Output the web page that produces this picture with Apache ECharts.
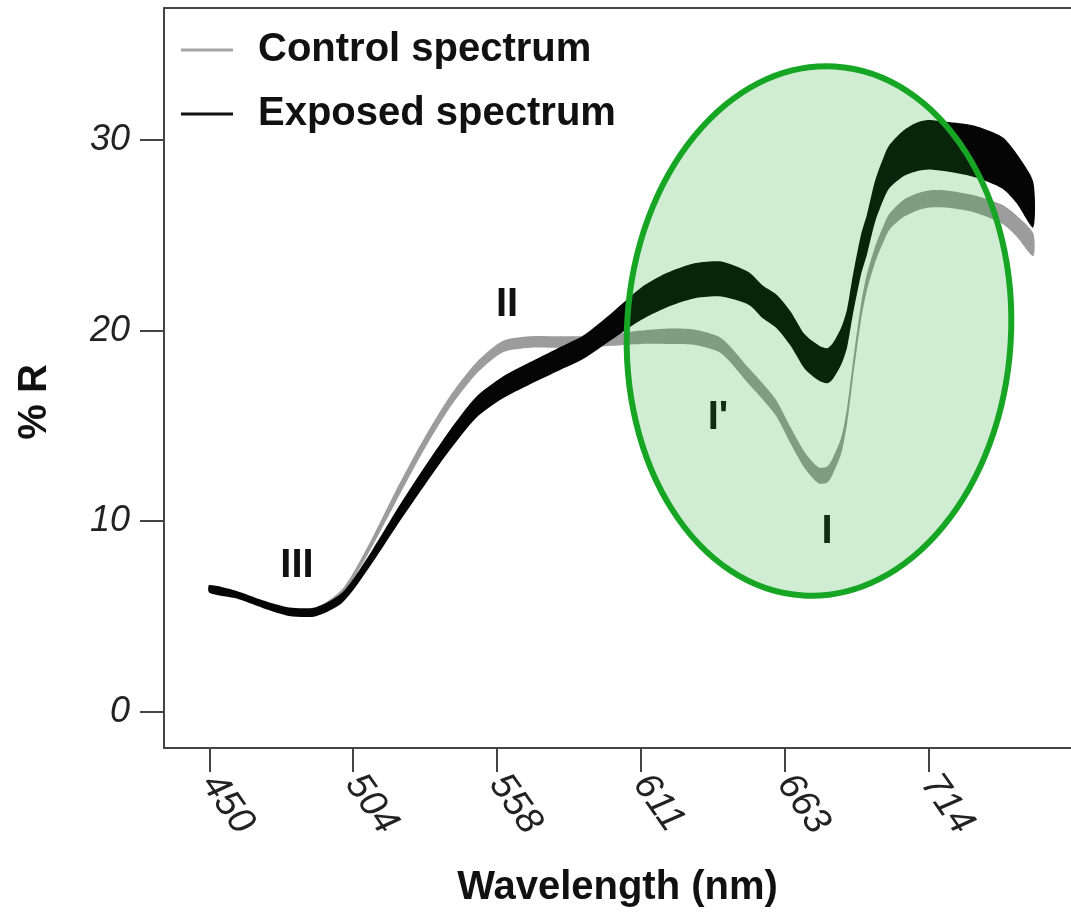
<!DOCTYPE html>
<html>
<head>
<meta charset="utf-8">
<title>Control vs exposed spectrum</title>
<script src="https://cdn.jsdelivr.net/npm/echarts@6/dist/echarts.min.js"></script>
<style>
  html, body { margin: 0; padding: 0; background: #fff; }
  #chart { width: 1071px; height: 913px; }
</style>
</head>
<body>
<div id="chart"></div>
<script>
// tick labels of the wavelength axis (evenly spaced on the plot)
var xTickNm = [450, 504, 558, 611, 663, 714];
var yTicks = [0, 10, 20, 30];

// sampled wavelengths (nm)
var wavelengths = [450, 460, 470, 480, 490, 500, 510, 520, 530, 540, 550, 560, 570, 580, 590, 600,
    611, 620, 630, 640, 650, 655, 660, 665, 670, 675, 678, 680, 683, 685, 687, 690, 692, 695, 698,
    700, 705, 710, 714, 720, 730, 740, 745, 751];

// %R, mean of each spectrum
var controlMean = [6.45, 6.15, 5.65, 5.25, 5.3, 6.3, 8.6, 11.3, 13.9, 16.2, 18.0, 19.15, 19.4, 19.4, 19.4, 19.5,
    19.65, 19.7, 19.65, 19.2, 17.6, 16.8, 15.9, 14.5, 13.2, 12.4, 12.45, 12.9, 14.0, 15.5, 17.8, 21.0, 22.5, 24.0, 25.1,
    25.7, 26.4, 26.75, 26.9, 26.9, 26.65, 26.1, 25.5, 24.5];
var exposedMean = [6.45, 6.15, 5.65, 5.25, 5.25, 6.0, 7.9, 10.1, 12.2, 14.2, 15.95, 17.0, 17.75, 18.45, 19.15, 20.2,
    21.4, 22.1, 22.6, 22.7, 22.2, 21.5, 21.0, 20.1, 18.9, 18.3, 18.15, 18.4, 19.2, 20.1, 21.8, 24.0, 25.0, 26.8, 28.0,
    28.6, 29.3, 29.65, 29.75, 29.65, 29.4, 28.8, 28.0, 26.6];

// half width of each band (%R)
var controlSpread = [0.15, 0.15, 0.15, 0.15, 0.15, 0.15, 0.22, 0.3, 0.3, 0.3, 0.3, 0.3, 0.3, 0.3, 0.3, 0.3,
    0.35, 0.4, 0.4, 0.4, 0.42, 0.42, 0.42, 0.42, 0.42, 0.42, 0.42, 0.42, 0.42, 0.42, 0.42, 0.42, 0.42, 0.42, 0.42,
    0.42, 0.45, 0.45, 0.45, 0.45, 0.45, 0.5, 0.55, 0.6];
var exposedSpread = [0.2, 0.2, 0.2, 0.22, 0.24, 0.27, 0.33, 0.42, 0.48, 0.52, 0.55, 0.57, 0.58, 0.6, 0.62, 0.7,
    0.85, 0.9, 0.92, 0.92, 0.86, 0.86, 0.88, 0.9, 0.9, 0.92, 0.92, 0.94, 0.97, 1.0, 1.03, 1.05, 1.05, 1.08, 1.1,
    1.13, 1.2, 1.28, 1.3, 1.3, 1.35, 1.35, 1.3, 1.2];

// nm -> position on the evenly spaced tick axis
function nmToPos(nm) {
    var i = 0;
    while (i < xTickNm.length - 2 && nm > xTickNm[i + 1]) i++;
    return i + (nm - xTickNm[i]) / (xTickNm[i + 1] - xTickNm[i]);
}

function bandData(mean, spread) {
    return wavelengths.map(function (w, i) {
        return [nmToPos(w), mean[i] - spread[i], mean[i] + spread[i]];
    });
}

function bandRenderer(color) {
    return function (params, api) {
        if (params.dataIndex !== 0) return null;
        var n = params.dataInsideLength;
        var upper = [], lower = [];
        for (var i = 0; i < n; i++) {
            var x = api.value(0, i);
            upper.push(api.coord([x, api.value(2, i)]));
            lower.push(api.coord([x, api.value(1, i)]));
        }
        return {
            type: 'polygon',
            shape: { points: upper.concat(lower.reverse()), smooth: 0.25 },
            style: { fill: color }
        };
    };
}

var FONT = '"Liberation Sans", Arial, sans-serif';
var axisColor = '#444';
var tickPos = [0, 1, 2, 3, 4, 5];

var myChart = echarts.init(document.getElementById('chart'));
var option = {
    backgroundColor: '#fff',
    animation: false,
    grid: {
        left: 164,
        top: 8,
        right: 0,
        bottom: 165,
        outerBoundsMode: 'none'
    },
    legend: {
        orient: 'vertical',
        left: 176,
        top: 25,
        itemGap: 24,
        itemWidth: 52,
        itemHeight: 3,
        selectedMode: false,
        textStyle: {
            fontFamily: FONT,
            fontWeight: 'bold',
            fontSize: 40,
            color: '#111',
            padding: [0, 0, 0, 20]
        },
        data: [
            { name: 'Control spectrum', icon: 'rect', itemStyle: { color: '#a3a3a3' } },
            { name: 'Exposed spectrum', icon: 'rect', itemStyle: { color: '#111' } }
        ]
    },
    xAxis: [{
        type: 'value',
        min: -0.3148,
        max: 5.988,
        name: 'Wavelength (nm)',
        nameLocation: 'middle',
        nameGap: 120,
        nameTextStyle: { fontFamily: FONT, fontWeight: 'bold', fontSize: 40, color: '#111' },
        splitLine: { show: false },
        axisLine: { onZero: false, lineStyle: { color: axisColor, width: 2 } },
        axisTick: {
            customValues: tickPos,
            length: 24,
            lineStyle: { color: axisColor, width: 2 }
        },
        axisLabel: {
            customValues: tickPos,
            formatter: function (v) { return String(xTickNm[Math.round(v)]); },
            rotate: -55,
            margin: 30,
            fontFamily: FONT,
            fontStyle: 'italic',
            fontSize: 38,
            color: '#222'
        }
    }, {
        // top frame line only
        type: 'value',
        position: 'top',
        min: -0.3148,
        max: 5.988,
        axisLine: { onZero: false, lineStyle: { color: axisColor, width: 2 } },
        axisTick: { show: false },
        axisLabel: { show: false },
        splitLine: { show: false }
    }],
    yAxis: {
        type: 'value',
        min: -1.9,
        max: 36.92,
        splitLine: { show: false },
        axisLine: { show: true, onZero: false, lineStyle: { color: axisColor, width: 2 } },
        axisTick: {
            show: true,
            customValues: yTicks,
            length: 24,
            lineStyle: { color: axisColor, width: 2 }
        },
        axisLabel: {
            customValues: yTicks,
            margin: 34,
            fontFamily: FONT,
            fontStyle: 'italic',
            fontSize: 36,
            color: '#222'
        }
    },
    graphic: [
        {
            type: 'text', z: 5,
            rotation: Math.PI / 2,
            x: 35, y: 402,
            style: { text: '% R', font: 'bold 40px ' + FONT, fill: '#111', align: 'center', verticalAlign: 'middle' }
        },
        { type: 'text', x: 507, y: 305, z: 5, style: { text: 'II', font: 'bold 40px ' + FONT, fill: '#111', align: 'center', verticalAlign: 'middle' } },
        { type: 'text', x: 297, y: 566, z: 5, style: { text: 'III', font: 'bold 40px ' + FONT, fill: '#111', align: 'center', verticalAlign: 'middle' } },
        { type: 'text', x: 718, y: 418, z: 5, style: { text: "I'", font: 'bold 40px ' + FONT, fill: '#111', align: 'center', verticalAlign: 'middle' } },
        { type: 'text', x: 827, y: 532, z: 5, style: { text: 'I', font: 'bold 40px ' + FONT, fill: '#111', align: 'center', verticalAlign: 'middle' } },
        {
            type: 'ellipse', z: 10,
            x: 819, y: 331, rotation: -3.4 * Math.PI / 180,
            shape: { cx: 0, cy: 0, rx: 192, ry: 265 },
            style: { fill: 'rgba(20,165,35,0.2)', stroke: '#17a624', lineWidth: 6 }
        }
    ],
    series: [
        {
            name: 'Control spectrum',
            type: 'custom',
            renderItem: bandRenderer('#9c9c9c'),
            itemStyle: { color: '#a3a3a3' },
            encode: { x: 0, y: [1, 2] },
            data: bandData(controlMean, controlSpread),
            z: 2
        },
        {
            name: 'Exposed spectrum',
            type: 'custom',
            renderItem: bandRenderer('#050505'),
            itemStyle: { color: '#111' },
            encode: { x: 0, y: [1, 2] },
            data: bandData(exposedMean, exposedSpread),
            z: 3
        }
    ]
};
myChart.setOption(option);
window.addEventListener('resize', function () {
    myChart.resize();
});
</script>
</body>
</html>
